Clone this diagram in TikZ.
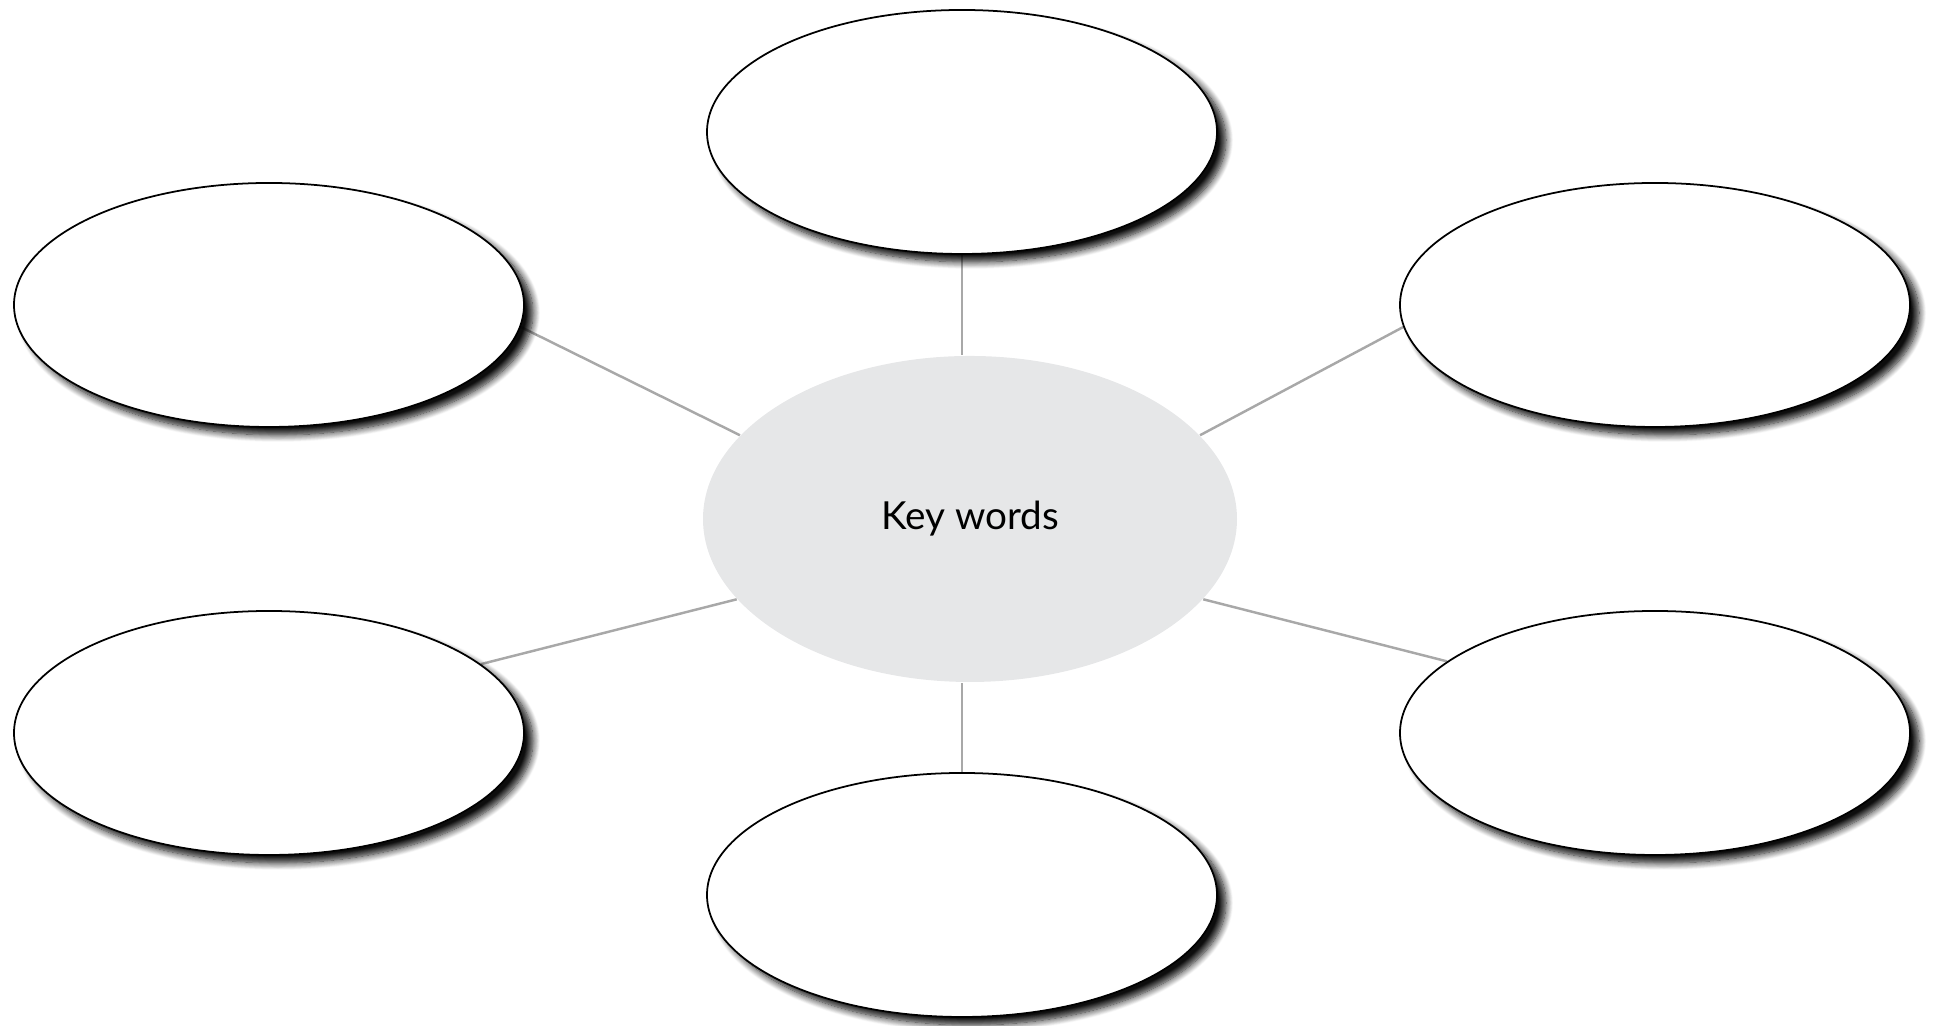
\documentclass[tikz,border=0pt]{standalone}
\usepackage{fontspec}
\setsansfont{Lato}
\usetikzlibrary{shapes.geometric, shadows.blur, backgrounds}
\definecolor{keygray}{HTML}{E6E7E8}
\definecolor{spokegray}{HTML}{A8A8A8}
\tikzset{
  bubble/.style={ellipse, draw, line width=0.5pt, fill=white,
    minimum width=5.1cm, minimum height=2.44cm, inner sep=0pt,
    blur shadow={shadow xshift=0.9mm, shadow yshift=-0.8mm,
      shadow blur radius=0.7mm, shadow blur steps=10, shadow opacity=95}},
  spoke/.style={draw=spokegray, line width=0.7pt}
}
\begin{document}
\begin{tikzpicture}
    \useasboundingbox (0, 0) rectangle (19.36, 10.26);
    \node [ellipse, fill=keygray, minimum width=5.34cm, minimum height=3.26cm,
      font=\sffamily\fontsize{11}{13}\selectfont] (key) at (9.70, 5.07) {Key words};

    \node [bubble] (top) at (9.62, 8.94) {};
    \node [bubble] (lu) at (2.69, 7.21) {};
    \node [bubble] (ru) at (16.55, 7.21) {};
    \node [bubble] (ll) at (2.69, 2.93) {};
    \node [bubble] (rl) at (16.55, 2.93) {};
    \node [bubble] (bot) at (9.62, 1.31) {};

    \begin{scope}[on background layer]
      \draw [spoke] (top.south) -- (top.south |- key.north);
      \draw [spoke] (bot.north) -- (bot.north |- key.south);
      \draw [spoke] (lu.-5) -- (key.160);
      \draw [spoke] (ru.185) -- (key.20);
      \draw [spoke] (ll.18) -- (key.199);
      \draw [spoke] (rl.161) -- (key.-19);
    \end{scope}
\end{tikzpicture}
\end{document}
